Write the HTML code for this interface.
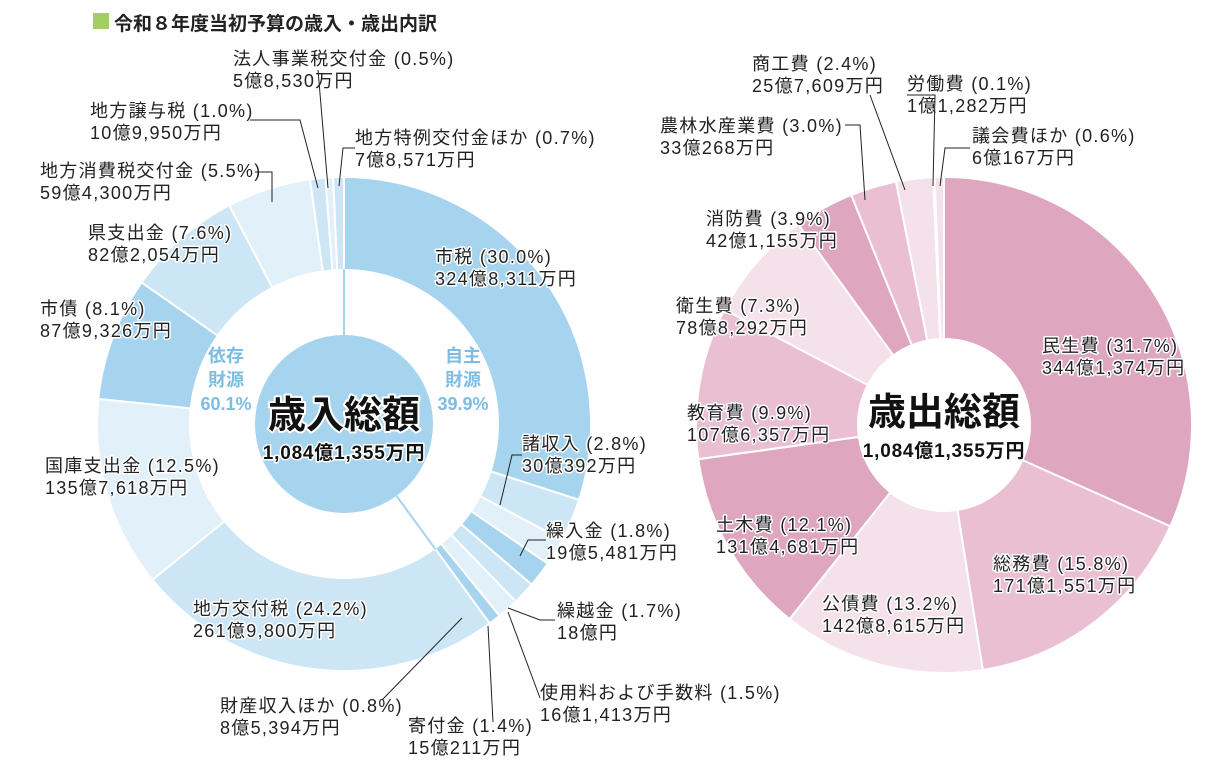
<!DOCTYPE html>
<html><head><meta charset="utf-8"><style>
body{margin:0;background:#fff;}
svg text{font-family:"Liberation Sans","Noto Sans CJK JP",sans-serif;}
.lb{font-size:18px;letter-spacing:1.3px;fill:#222;paint-order:stroke;stroke:#fff;stroke-width:3px;stroke-linejoin:round;}
</style></head><body>
<svg id="c" width="1229" height="778" viewBox="0 0 1229 778">
<rect x="93" y="13" width="16" height="16" fill="#a3cf62"/>
<text x="114" y="30" font-size="19" font-weight="bold" fill="#222">令和８年度当初予算の歳入・歳出内訳</text>
<g id="L"></g><g id="R"></g><g id="labels"></g>
</svg>
<script>
const revNames=["市税","諸収入","繰入金","繰越金","使用料および手数料","寄付金","財産収入ほか","地方交付税","国庫支出金","市債","県支出金","地方消費税交付金","地方譲与税","法人事業税交付金","地方特例交付金ほか"];
const revPct=[30.0,2.8,1.8,1.7,1.5,1.4,0.8,24.2,12.5,8.1,7.6,5.5,1.0,0.5,0.7];
const revAmt=["324億8,311万円","30億392万円","19億5,481万円","18億円","16億1,413万円","15億211万円","8億5,394万円","261億9,800万円","135億7,618万円","87億9,326万円","82億2,054万円","59億4,300万円","10億9,950万円","5億8,530万円","7億8,571万円"];
const revColor=["#a6d3ed","#cde6f6","#e2f0fa","#a6d3ed","#cde6f6","#e2f0fa","#a6d3ed","#cde6f6","#e2f0fa","#a6d3ed","#cde6f6","#e2f0fa","#cde6f6","#e2f0fa","#cde6f6"];
const expNames=["民生費","総務費","公債費","土木費","教育費","衛生費","消防費","農林水産業費","商工費","労働費","議会費ほか"];
const expPct=[31.7,15.8,13.2,12.1,9.9,7.3,3.9,3.0,2.4,0.1,0.6];
const expAmt=["344億1,374万円","171億1,551万円","142億8,615万円","131億4,681万円","107億6,357万円","78億8,292万円","42億1,155万円","33億268万円","25億7,609万円","1億1,282万円","6億167万円"];
const expColor=["#dea6bf","#e9bfd1","#f5e1ea","#dea6bf","#e9bfd1","#f5e1ea","#dea6bf","#e9bfd1","#f5e1ea","#e9bfd1","#f5e1ea"];
const NS="http://www.w3.org/2000/svg";
function mk(tag,attrs,parent){const e=document.createElementNS(NS,tag);for(const k in attrs)e.setAttribute(k,attrs[k]);parent.appendChild(e);return e;}
function pt(cx,cy,r,a){return [cx+r*Math.sin(a),cy-r*Math.cos(a)];}
function donut(g,cx,cy,R,r,pcts,colors,names){
  const tot=pcts.reduce((a,b)=>a+b,0);let a0=0;
  pcts.forEach((p,i)=>{const a1=a0+p/tot*2*Math.PI;
    const [x1,y1]=pt(cx,cy,R,a0),[x2,y2]=pt(cx,cy,R,a1),[x3,y3]=pt(cx,cy,r,a1),[x4,y4]=pt(cx,cy,r,a0);
    const lg=(a1-a0)>Math.PI?1:0;
    const s=mk("path",{d:`M${x1},${y1}A${R},${R} 0 ${lg} 1 ${x2},${y2}L${x3},${y3}A${r},${r} 0 ${lg} 0 ${x4},${y4}Z`,fill:colors[i],stroke:"#fff","stroke-width":2},g);
    
    
    a0=a1;});
}
const L=document.getElementById("L"),Rg=document.getElementById("R");
donut(L,344,424,247,154,revPct,revColor,revNames);
donut(Rg,944,425,248,86,expPct,expColor,expNames);
mk("circle",{cx:344,cy:424,r:89,fill:"#a6d3ed"},L);
const revTot=revPct.reduce((a,b)=>a+b,0);
const selfPct=revPct.slice(0,7).reduce((a,b)=>a+b,0);
[0,selfPct/revTot*2*Math.PI].forEach(a=>{const [x1,y1]=pt(344,424,89,a),[x2,y2]=pt(344,424,155,a);mk("line",{x1,y1,x2,y2,stroke:"#a6d3ed","stroke-width":2},L);});
mk("circle",{cx:944,cy:425,r:86,fill:"#fff"},Rg);
const lab=document.getElementById("labels");
function txt(x,y,s,cls,extra,style){const t=mk("text",Object.assign({x,y,class:cls||"lb"},extra||{}),lab);if(style)t.setAttribute("style",style);t.textContent=s;return t;}
let t;
const big="font-size:38px;font-weight:bold;fill:#111;stroke-width:4px;letter-spacing:0;";
const mid="font-size:19px;font-weight:bold;fill:#111;letter-spacing:0.8px;";
t=txt(344,428,"歳入総額","lb",{"text-anchor":"middle"},big);
t=txt(344,459,"1,084億1,355万円","lb",{"text-anchor":"middle"},mid);
t=txt(944,425,"歳出総額","lb",{"text-anchor":"middle"},big);
t=txt(944,457,"1,084億1,355万円","lb",{"text-anchor":"middle"},mid);
[["依存",226,362],["財源",226,386],["60.1%",226,410],["自主",463,362],["財源",463,386],["39.9%",463,410]].forEach(d=>{const e=txt(d[1],d[2],d[0],"x",{"text-anchor":"middle"},"font-size:18px;font-weight:bold;fill:#7dbde3;");});
const revPos=[[435,263],[522,450],[546,537],[557,617],[540,699],[408,732],[220,712],[193,615],[45,472],[40,315],[88,239],[40,177],[90,117],[233,65],[355,144]];
const expPos=[[1042,352],[993,570],[822,610],[716,531],[687,419],[676,312],[706,225],[660,132],[752,70],[907,90],[972,142]];
function labels(names,pcts,amts,pos,pre){names.forEach((n,i)=>{const [x,y]=pos[i];
  const a=txt(x,y,n+" ("+pcts[i].toFixed(1)+"%)");
  const b=txt(x,y+22,amts[i]);});}
labels(revNames,revPct,revAmt,revPos,'revenue');
labels(expNames,expPct,expAmt,expPos,'expense');
const leaders=["318,70 328,188","250,120 300,120 318,188","355,148 343,148 339,186","255,172 272,172 272,202","522,455 512,455 500,505","546,540 528,540 520,556","555,620 540,620 508,608","540,698 508,612","493,722 488,626","382,700 462,618","870,95 905,190","845,125 860,125 865,200","907,95 935,95 933,186","970,148 945,148 940,186"];
leaders.forEach(p=>{const l=mk("polyline",{points:p,fill:"none",stroke:"#222","stroke-width":1},lab);});
</script>
</body></html>
